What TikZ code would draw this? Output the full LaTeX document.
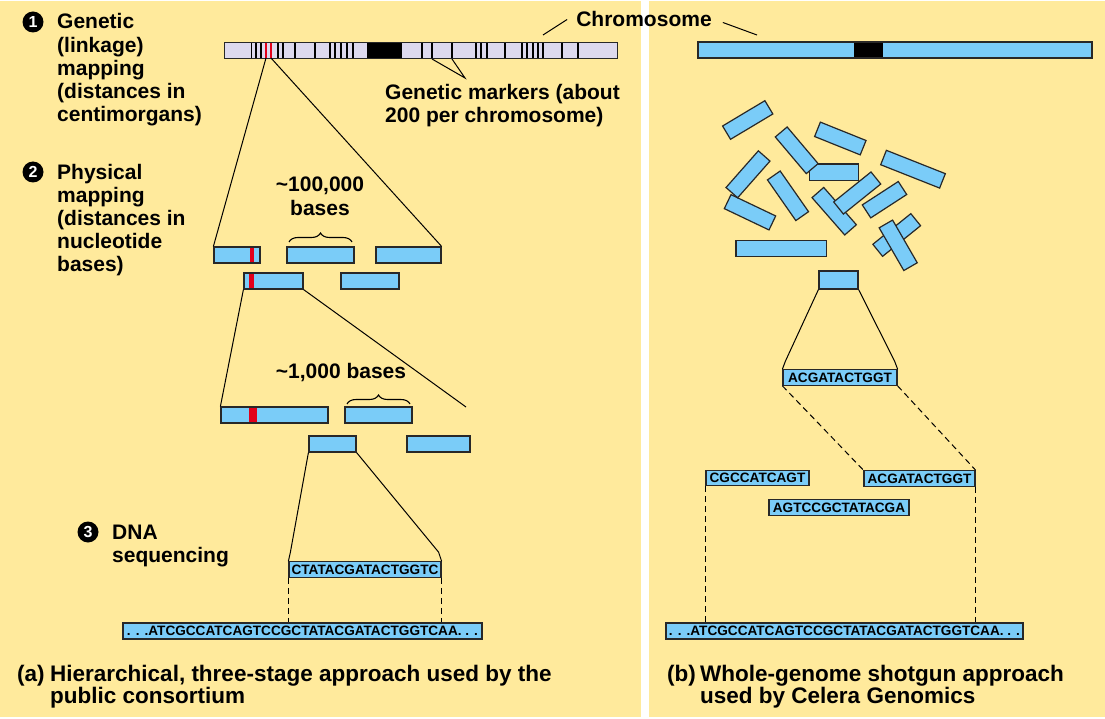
\documentclass[tikz,border=0pt]{standalone}
\usepackage{fontspec}
\setmainfont{Liberation Sans}
\usetikzlibrary{fit,decorations.pathreplacing}

\definecolor{panel}{RGB}{255,234,156}
\definecolor{dnablue}{RGB}{122,204,248}
\definecolor{lav}{RGB}{221,217,238}
\definecolor{marker}{RGB}{226,0,26}
\definecolor{edge}{RGB}{40,40,40}

\begin{document}
\begin{tikzpicture}[x=1pt,y=-1pt,
  seg/.style={draw=edge, line width=1.2pt, fill=dnablue, inner sep=0pt},
  frag/.style={seg, minimum width=#1, minimum height=15.5pt, rotate=0},
  seqbox/.style={seg, font=\fontsize{13.6}{13.6}\selectfont\bfseries, minimum height=15.5pt},
  lbl/.style={font=\fontsize{21}{23.2}\selectfont\bfseries, align=left, inner sep=0pt, anchor=base west},
  captext/.style={font=\fontsize{22.5}{22.5}\selectfont\bfseries, align=left, inner sep=0pt, anchor=base west},
  bullet/.style={circle, fill=black, text=white, inner sep=0pt, minimum size=21pt,
    font=\fontsize{16}{16}\selectfont\bfseries},
  link/.style={line width=1pt, draw=black},
  dashlink/.style={line width=1pt, dash pattern=on 6pt off 4pt},
  stripe/.style={line width=1.8pt},
  brace/.style={decorate, decoration={brace, amplitude=9pt}, line width=1.1pt},
]
% panels
\fill[white] (0,0) rectangle (1105,719);
\fill[panel] (0,1) rectangle (641,717);
\fill[panel] (649,1) rectangle (1105,717);
\useasboundingbox (0,0) rectangle (1105,719);

% ---------- left: hierarchical approach ----------
% chromosome with genetic markers
\node[fit={(225,43) (617,58)}, inner sep=0pt, fill=lav] (chromL) {};
\foreach \x in {251.5,256,261,278,283,295,315,330,335,341,347,353,422,432,452,476,481,487,505,522,527,533,538,543,562,578}
  \draw[stripe] (\x,43) -- (\x,58);
\foreach \x in {266,271}
  \draw[stripe, marker] (\x,43) -- (\x,58);
\fill (367,43) rectangle (402,58);
\draw[draw=edge, line width=1.2pt] (chromL.south west) rectangle (chromL.north east);

\coordinate (redA) at (266,58);
\coordinate (redB) at (271,58);
\coordinate (gmA) at (432,59);
\coordinate (gmB) at (452,59);
\coordinate (gmTip) at (465,78);
\coordinate (chromTipL) at (543,35);
\coordinate (chromTipR) at (757,35);

% labels (multi-line nodes are placed by the baseline of their last line)
\node[bullet] (b1) at (33,22) {1};
\node[lbl] (t1) at (57,121.8) {Genetic\\(linkage)\\mapping\\(distances in\\centimorgans)};
\node[bullet] (b2) at (33,172) {2};
\node[lbl] (t2) at (57,271.8) {Physical\\mapping\\(distances in\\nucleotide\\bases)};
\node[bullet] (b3) at (88,532) {3};
\node[lbl] (t3) at (112,562.2) {DNA\\sequencing};
\node[lbl] (gm) at (385,123) {Genetic markers (about\\200 per chromosome)};
\node[lbl, anchor=base] (chromlbl) at (644,27) {Chromosome};

\draw[link] (gmA) -- (gmTip) -- (gmB);
\draw[link] ([shift={(-9pt,0pt)}]chromlbl.west) -- (chromTipL);
\draw[link] ([shift={(11pt,-3pt)}]chromlbl.east) -- (chromTipR);

% physical map clones
\node[seg, fit={(214,247) (260,263)}] (p1) {};
\fill[marker] (250,248) rectangle (254,262);
\node[seg, fit={(287,247) (354,263)}] (p2) {};
\node[seg, fit={(376,247) (441,263)}] (p3) {};
\node[seg, fit={(244,273) (303,289)}] (p4) {};
\fill[marker] (249,274) rectangle (254,288);
\node[seg, fit={(341,273) (399,289)}] (p5) {};

\draw[link] (redA) -- (p1.north west);
\draw[link] (redB) -- (p3.north east);
\draw[brace] (289,242) -- (352,242);
\node[lbl, anchor=base, align=center] (kb100) at (320,215.2) {\textasciitilde100,000\\bases};

% finer clones
\node[seg, fit={(221,407) (328,423)}] (q1) {};
\fill[marker] (249,408) rectangle (257,422);
\node[seg, fit={(345,407) (412,423)}] (q2) {};
\node[seg, fit={(309,436) (356,452)}] (q3) {};
\node[seg, fit={(407,436) (470,452)}] (q4) {};
\coordinate (qEnd) at (466,407);

\draw[link] (p4.south west) -- (q1.north west);
\draw[link] (p4.south east) -- (qEnd);
\draw[brace] (347,404) -- (410,404);
\node[lbl, anchor=base] (kb1) at (341,378) {\textasciitilde1,000 bases};

% sequencing
\node[seqbox, minimum width=152pt] (s1) at (365,569.5) {CTATACGATACTGGTC};
\draw[link] (q3.south west) -- ([shift={(2pt,9pt)}]s1.north west) -- (s1.north west);
\draw[link] (q3.south east) -- ([shift={(-3pt,9pt)}]s1.north east) -- (s1.north east);

\node[seqbox, minimum width=359pt, minimum height=16pt] (L1) at (302.5,631)
  {. . .ATCGCCATCAGTCCGCTATACGATACTGGTCAA. . .};
\draw[dashlink] (s1.south west) -- (s1.south west |- L1.north);
\draw[dashlink] (s1.south east) -- (s1.south east |- L1.north);

\node[captext] (ca) at (17,681) {(a)};
\node[captext] (cat) at (50,703.5) {Hierarchical, three-stage approach used by the\\public consortium};

% ---------- right: whole-genome shotgun ----------
\node[seg, fit={(698,42) (1092,58)}] (chromR) {};
\fill (854,42.6) rectangle (883,57.4);

% random fragments
\node[frag=49.3pt, rotate=30.9] (f1) at (747.7,120) {};
\node[frag=49.2pt, rotate=-21.9] (f3) at (840.3,138.5) {};
\node[frag=63.4pt, rotate=-21.6] (f4) at (913,169.2) {};
\node[seg, fit={(809.3,164) (858.7,180.7)}] (f5) {};
\node[frag=48pt, rotate=-49.8] (f2) at (796.7,150.3) {};
\node[frag=49.5pt, rotate=-25.5] (f7) at (750,212.3) {};
\node[frag=48.9pt, rotate=48.6] (f6) at (748,174.3) {};
\node[frag=49.6pt, rotate=-55.1] (f8) at (788,195.8) {};
\node[frag=49.6pt, rotate=-48.8] (f9) at (834.2,211.2) {};
\node[frag=47.9pt, rotate=38.8] (f10) at (857.2,193) {};
\node[frag=42.9pt, rotate=33] (f11) at (884.5,199.7) {};
\node[frag=48.8pt, rotate=38.9] (f12) at (896.7,235) {};
\node[frag=49.3pt, rotate=-60] (f13) at (898.2,245.3) {};
\node[seg, fit={(736,240.7) (826.7,256.7)}] (f14) {};
\node[seg, fit={(819,271) (858,289)}] (pick) {};

% read and assembly
\node[seqbox, minimum width=114pt] (a1) at (840,377.5) {ACGATACTGGT};
\draw[link] (pick.south west) -- ([shift={(3pt,8pt)}]a1.north west) -- (a1.north west);
\draw[link] (pick.south east) -- ([shift={(-3pt,8pt)}]a1.north east) -- (a1.north east);

\node[seqbox, minimum width=103pt] (c1) at (757.5,478) {CGCCATCAGT};
\node[seqbox, minimum width=111pt] (a2) at (919.5,478.5) {ACGATACTGGT};
\node[seqbox, minimum width=140pt] (g1) at (839,507.5) {AGTCCGCTATACGA};

\draw[dashlink] (a1.south west) -- (a2.north west);
\draw[dashlink] (a1.south east) -- (a2.north east);

\node[seqbox, minimum width=357pt, minimum height=16pt] (L2) at (844.5,631)
  {. . .ATCGCCATCAGTCCGCTATACGATACTGGTCAA. . .};
\draw[dashlink] (c1.south west) -- (c1.south west |- L2.north);
\draw[dashlink] (a2.south east) -- (a2.south east |- L2.north);

\node[captext] (cb) at (667,681) {(b)};
\node[captext] (cbt) at (700,703.5) {Whole-genome shotgun approach\\used by Celera Genomics};
\end{tikzpicture}
\end{document}
